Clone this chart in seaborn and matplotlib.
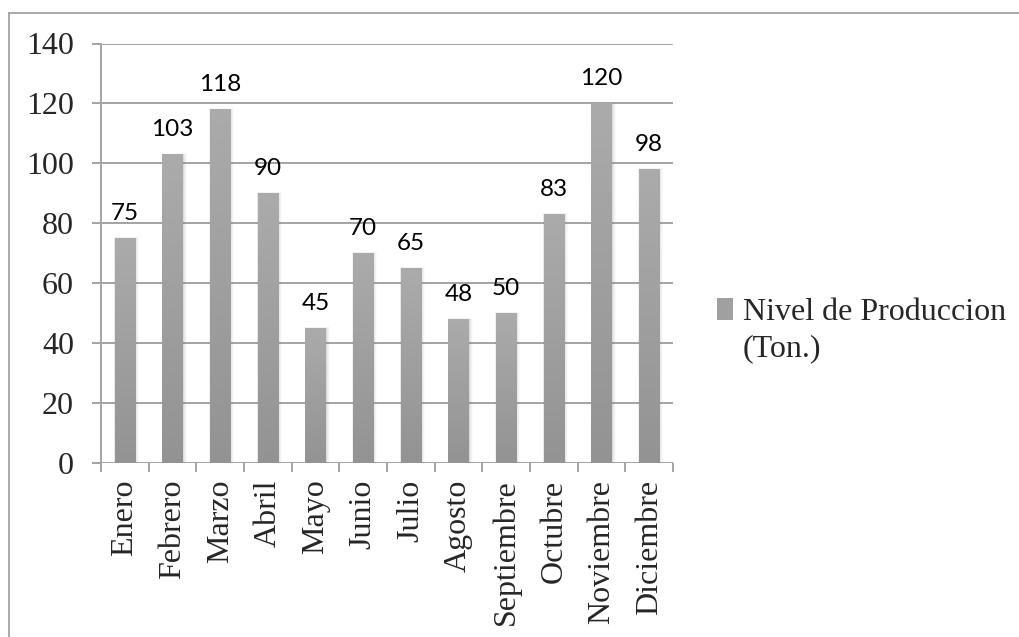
import numpy as np
import pandas as pd
import matplotlib
matplotlib.use("Agg")
import matplotlib.pyplot as plt
from matplotlib.patches import Rectangle
from matplotlib.lines import Line2D
import seaborn as sns

months = ["Enero", "Febrero", "Marzo", "Abril", "Mayo", "Junio", "Julio",
          "Agosto", "Septiembre", "Octubre", "Noviembre", "Diciembre"]
production = [75, 103, 118, 90, 45, 70, 65, 48, 50, 83, 120, 98]
series_name = "Nivel de Produccion"
series_unit = "(Ton.)"
y_ticks = [0, 20, 40, 60, 80, 100, 120, 140]

sns.set_style("white")
plt.rcParams["font.family"] = ["Liberation Serif", "DejaVu Serif"]

df = pd.DataFrame({"mes": months, "produccion": production})

fig = plt.figure(figsize=(10.19, 6.37), dpi=100)
ax = fig.add_axes([101 / 1019, 1 - 463 / 637, 572 / 1019, 419.5 / 637])

sns.barplot(data=df, x="mes", y="produccion", color="#a0a0a0", width=0.42,
            saturation=1, ax=ax, zorder=3)

# vertical grey gradient with a soft shadow for each bar
grad = np.linspace(0, 1, 256).reshape(-1, 1)
cmap = matplotlib.colors.LinearSegmentedColormap.from_list(
    "bar", ["#939393", "#ababab"])
for p in list(ax.patches):
    x0, y0 = p.get_x(), p.get_y()
    w, h = p.get_width(), p.get_height()
    for k, a in enumerate([0.10, 0.07, 0.05, 0.03]):
        d = 0.012 * (k + 1)
        ax.add_patch(Rectangle((x0 - d * 0.4, y0), w + d * 2.2, h + d * 8,
                               facecolor="#707070", edgecolor="none",
                               alpha=a, zorder=2.5))
    p.set_facecolor("none")
    p.set_edgecolor("none")
    im = ax.imshow(grad, extent=(x0, x0 + w, y0, y0 + h), origin="lower",
                   cmap=cmap, aspect="auto", zorder=3, interpolation="bilinear")
    clip = Rectangle((x0, y0), w, h, transform=ax.transData)
    im.set_clip_path(clip)

# value labels above bars
for i, v in enumerate(production):
    ax.annotate(f"{v}", (i, v), xytext=(0, 13), textcoords="offset points",
                ha="center", va="baseline", fontsize=17.5,
                family=["Lato", "DejaVu Sans"], color="#000000")

ax.set_xlim(-0.5, len(months) - 0.5)
ax.set_ylim(0, 140)
ax.set_yticks(y_ticks)
ax.set_yticklabels([str(t) for t in y_ticks])
ax.set_xlabel("")
ax.set_ylabel("")

grid_c = "#a3a3a3"
ax.yaxis.grid(True, color=grid_c, linewidth=1.4, zorder=0)
ax.set_axisbelow(True)
for s in ["top", "right", "bottom"]:
    ax.spines[s].set_visible(False)
ax.spines["left"].set_color(grid_c)
ax.spines["left"].set_linewidth(1.4)

# x ticks sit on the category boundaries, labels in the middle
ax.set_xticks(np.arange(-0.5, len(months), 1.0))
ax.set_xticklabels([])
ax.set_xticks(np.arange(len(months)), minor=True)
ax.set_xticklabels(months, minor=True, rotation=90, fontsize=23)
ax.tick_params(axis="x", which="major", direction="out", length=6.5,
               width=1.4, color=grid_c, bottom=True)
ax.tick_params(axis="x", which="minor", length=0, pad=12)
ax.tick_params(axis="y", direction="out", length=6.5, width=1.4,
               color=grid_c, labelsize=23, pad=13, left=True)

# legend: swatch on the first line, unit on the second
h1 = Rectangle((0, 0), 1, 1, facecolor="#a0a0a0", edgecolor="none")
h2 = Rectangle((0, 0), 1, 1, facecolor="none", edgecolor="none")
fig.legend([h1, h2], [series_name, series_unit], loc="upper left",
           bbox_to_anchor=(717 / 1019, 1 - 298 / 637), frameon=False,
           fontsize=23, handlelength=0.5, handleheight=0.7,
           handletextpad=0.3, labelspacing=0.2, borderpad=0, borderaxespad=0)

# outer frame
fig.add_artist(Line2D([9 / 1019, 1.0], [1 - 13 / 637] * 2, color="#9a9a9a",
                      linewidth=1.2, transform=fig.transFigure))
fig.add_artist(Line2D([9 / 1019] * 2, [0.0, 1 - 13 / 637], color="#9a9a9a",
                      linewidth=1.2, transform=fig.transFigure))

fig.savefig("out.png", dpi=100, facecolor="white")
